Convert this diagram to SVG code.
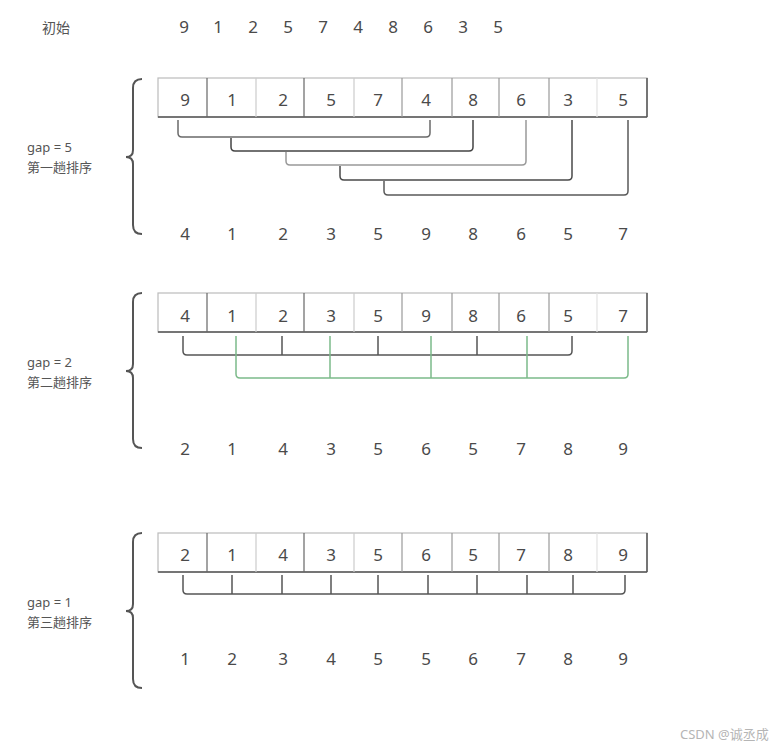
<svg xmlns="http://www.w3.org/2000/svg" width="784" height="747" viewBox="0 0 784 747">
<style>
text{font-family:"Noto Sans","Noto Sans CJK SC",sans-serif;fill:#4a4a4a}
.d{font-size:17px;text-anchor:middle}
.l{font-size:13px;fill:#555}
.br{fill:none;stroke:#555;stroke-width:2}
.c{fill:none;stroke:#555;stroke-width:1.5}
.g{fill:none;stroke:#7cba8a;stroke-width:1.5}
.box{fill:#fff;stroke:#bbb;stroke-width:1.2}
.bot{stroke:#555;stroke-width:1.5}
.sd{stroke:#666;stroke-width:1.2}
.sl{stroke:#ccc;stroke-width:1.2}
.sm{stroke:#999;stroke-width:1.2}
.rt{stroke:#555;stroke-width:1.5}
</style>
<defs>
<g id="cells">
<rect class="box" x="158" y="0" width="489" height="39"/>
<line class="bot" x1="158" y1="39" x2="647" y2="39"/>
<line class="sd" x1="207" y1="0" x2="207" y2="39"/>
<line class="sl" x1="256" y1="0" x2="256" y2="39"/>
<line class="sd" x1="304" y1="0" x2="304" y2="39"/>
<line class="sl" x1="354" y1="0" x2="354" y2="39"/>
<line class="sm" x1="402" y1="0" x2="402" y2="39"/>
<line class="sm" x1="452" y1="0" x2="452" y2="39"/>
<line class="sm" x1="499" y1="0" x2="499" y2="39"/>
<line class="sm" x1="549" y1="0" x2="549" y2="39"/>
<line stroke="#e2e2e2" stroke-width="1.2" x1="597" y1="0" x2="597" y2="39"/>
<line class="rt" x1="647" y1="0" x2="647" y2="39"/>
</g>
<path id="brace" class="br" d="M142,0 Q133,0 133,9 L133,71 Q133,78 126,78 Q133,78 133,85 L133,146 Q133,155 142,155"/>
</defs>

<g id="initial">
<text class="l" x="42" y="33" style="font-size:14px">初始</text>
<text class="d" x="184" y="33">9</text><text class="d" x="218" y="33">1</text><text class="d" x="253" y="33">2</text><text class="d" x="288" y="33">5</text><text class="d" x="323" y="33">7</text><text class="d" x="358" y="33">4</text><text class="d" x="393" y="33">8</text><text class="d" x="428" y="33">6</text><text class="d" x="463" y="33">3</text><text class="d" x="498" y="33">5</text>
</g>

<g id="pass1">
<use href="#brace" y="79"/>
<text class="l" x="27" y="152">gap = 5</text>
<text class="l" x="27" y="172">第一趟排序</text>
<use href="#cells" y="78"/>
<text class="d" x="185" y="106">9</text><text class="d" x="232" y="106">1</text><text class="d" x="283" y="106">2</text><text class="d" x="331" y="106">5</text><text class="d" x="378" y="106">7</text><text class="d" x="426" y="106">4</text><text class="d" x="473" y="106">8</text><text class="d" x="521" y="106">6</text><text class="d" x="568" y="106">3</text><text class="d" x="623" y="106">5</text>
<text class="d" x="185" y="240">4</text><text class="d" x="232" y="240">1</text><text class="d" x="283" y="240">2</text><text class="d" x="331" y="240">3</text><text class="d" x="378" y="240">5</text><text class="d" x="426" y="240">9</text><text class="d" x="473" y="240">8</text><text class="d" x="521" y="240">6</text><text class="d" x="568" y="240">5</text><text class="d" x="623" y="240">7</text>
</g>

<g id="pass2">
<use href="#brace" y="293"/>
<text class="l" x="27" y="367">gap = 2</text>
<text class="l" x="27" y="387">第二趟排序</text>
<use href="#cells" y="293"/>
<text class="d" x="185" y="322">4</text><text class="d" x="232" y="322">1</text><text class="d" x="283" y="322">2</text><text class="d" x="331" y="322">3</text><text class="d" x="378" y="322">5</text><text class="d" x="426" y="322">9</text><text class="d" x="473" y="322">8</text><text class="d" x="521" y="322">6</text><text class="d" x="568" y="322">5</text><text class="d" x="623" y="322">7</text>
<text class="d" x="185" y="455">2</text><text class="d" x="232" y="455">1</text><text class="d" x="283" y="455">4</text><text class="d" x="331" y="455">3</text><text class="d" x="378" y="455">5</text><text class="d" x="426" y="455">6</text><text class="d" x="473" y="455">5</text><text class="d" x="521" y="455">7</text><text class="d" x="568" y="455">8</text><text class="d" x="623" y="455">9</text>
</g>

<g id="pass3">
<use href="#brace" y="533"/>
<text class="l" x="27" y="607">gap = 1</text>
<text class="l" x="27" y="627">第三趟排序</text>
<use href="#cells" y="533"/>
<text class="d" x="185" y="561">2</text><text class="d" x="232" y="561">1</text><text class="d" x="283" y="561">4</text><text class="d" x="331" y="561">3</text><text class="d" x="378" y="561">5</text><text class="d" x="426" y="561">6</text><text class="d" x="473" y="561">5</text><text class="d" x="521" y="561">7</text><text class="d" x="568" y="561">8</text><text class="d" x="623" y="561">9</text>
<text class="d" x="185" y="665">1</text><text class="d" x="232" y="665">2</text><text class="d" x="283" y="665">3</text><text class="d" x="331" y="665">4</text><text class="d" x="378" y="665">5</text><text class="d" x="426" y="665">5</text><text class="d" x="473" y="665">6</text><text class="d" x="521" y="665">7</text><text class="d" x="568" y="665">8</text><text class="d" x="623" y="665">9</text>
</g>

<g id="connectors">
<path class="c" style="stroke:#6a6a6a" d="M178,120 V133 Q178,137 182,137 H426 Q430,137 430,133 V120"/>
<path class="c" style="stroke:#444" d="M231,138 V147 Q231,151 235,151 H469 Q473,151 473,147 V120"/>
<path class="c" style="stroke:#999" d="M286,152 V161 Q286,165 290,165 H522 Q526,165 526,161 V120"/>
<path class="c" style="stroke:#4a4a4a" d="M340,166 V176 Q340,180 344,180 H568 Q572,180 572,176 V120"/>
<path class="c" style="stroke:#5a5a5a" d="M384,181 V191 Q384,195 388,195 H624 Q628,195 628,191 V120"/>

<path class="c" d="M183,336 V351 Q183,355 187,355 H568 Q572,355 572,351 V336 M282,336 V355 M378,336 V355 M477,336 V355"/>
<path class="g" d="M236,336 V374 Q236,378 240,378 H624 Q628,378 628,374 V336 M330,336 V378 M431,336 V378 M527,336 V378"/>

<path class="c" d="M183,575 V590 Q183,594 187,594 H621 Q625,594 625,590 V575 M232,575 V594 M282,575 V594 M331,575 V594 M378,575 V594 M428,575 V594 M477,575 V594 M527,575 V594 M573,575 V594"/>
</g>

<text x="680" y="739" style="font-size:13px;fill:#b5b5b5">CSDN @诚丞成</text>
</svg>
